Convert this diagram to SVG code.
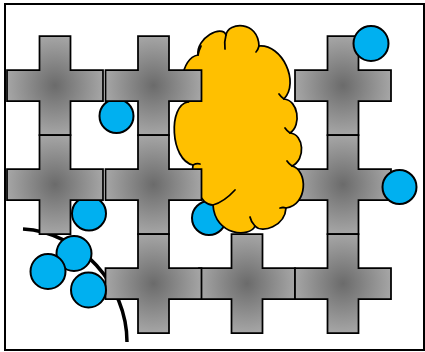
<svg xmlns="http://www.w3.org/2000/svg" xmlns:xlink="http://www.w3.org/1999/xlink" width="425" height="352" viewBox="0 0 425 352">
<style>
.cross{fill:url(#gray);stroke:#000;stroke-width:1.75;stroke-linejoin:miter}
.ball{fill:#00B0F0;stroke:#000;stroke-width:2}
.cloud{fill:#FFC000;stroke:#000;stroke-width:1.75;stroke-linejoin:round}
.inner{fill:none;stroke:#000;stroke-width:1.75;stroke-linecap:round}
.curve{fill:none;stroke:#000;stroke-width:3.5}
</style>
<defs>
<radialGradient id="gray" cx="50%" cy="50%" r="55%">
<stop offset="0" stop-color="#6b6b6b"/>
<stop offset="1" stop-color="#ababab"/>
</radialGradient>
<path id="crossShape" class="cross" d="M-15.5,-49.5 H15.5 V-15.5 H48 V15.5 H15.5 V49.5 H-15.5 V15.5 H-48 V-15.5 H-15.5 Z"/>
</defs>
<rect x="5" y="4" width="419" height="346" fill="#fff" stroke="#000" stroke-width="2"/>
<g id="connectors">
<path class="curve" d="M23,229 C80,232 127,285 127,342"/>
</g>
<g id="ball-under-1"><circle class="ball" cx="116.5" cy="116" r="17"/></g>
<g id="ball-under-2"><circle class="ball" cx="89" cy="213.5" r="17"/></g>
<g id="ball-under-3"><circle class="ball" cx="209" cy="218" r="17"/></g>
<g id="cross-r1c4"><use xlink:href="#crossShape" href="#crossShape" x="343" y="85.5"/></g>
<g id="cross-r2c4"><use xlink:href="#crossShape" href="#crossShape" x="343" y="184.5"/></g>
<g id="cross-r3c3"><use xlink:href="#crossShape" href="#crossShape" x="247" y="283.5"/></g>
<g id="cross-r3c4"><use xlink:href="#crossShape" href="#crossShape" x="343" y="283.5"/></g>
<g id="cloud">
<path class="cloud" d="M198,55 C196,38 222,24 226,35 C228,22 258,20 259,46 C282,44 300,82 284,99 C298,100 302,125 290,133 C304,134 306,160 292,166 C308,170 308,205 286,208 C285,226 262,234 255,226 C250,238 215,236 213,205 C200,205 190,180 193,165 C170,160 168,105 188,102 C178,95 180,58 198,55 Z"/>
<path class="inner" d="M198,55 Q199,50 201,46 M226,35 Q224,42 225,49 M259,46 Q258,50 256,52 M284,99 Q281,97 279,94 M290,133 Q287,131 285,128 M292,166 Q289,164 287,161 M286,208 Q283,207 280,208 M255,226 Q251,222 250,217 M213,205 Q224,202 235,190 M193,165 Q197,163 200,164 M188,102 Q191,100 193,100"/>
</g>
<g id="cross-r1c1"><use xlink:href="#crossShape" href="#crossShape" x="55" y="85.5"/></g>
<g id="cross-r1c2"><use xlink:href="#crossShape" href="#crossShape" x="153.5" y="85.5"/></g>
<g id="cross-r2c1"><use xlink:href="#crossShape" href="#crossShape" x="55" y="184.5"/></g>
<g id="cross-r2c2"><use xlink:href="#crossShape" href="#crossShape" x="153.5" y="184.5"/></g>
<g id="cross-r3c2"><use xlink:href="#crossShape" href="#crossShape" x="153.5" y="283.5"/></g>
<g id="ball-top-right"><circle class="ball" cx="371" cy="43.5" r="17.5"/></g>
<g id="ball-right"><circle class="ball" cx="399.5" cy="187" r="17"/></g>
<g id="ball-cluster-1"><circle class="ball" cx="74" cy="253.5" r="17.5"/></g>
<g id="ball-cluster-2"><circle class="ball" cx="48" cy="271.5" r="17.5"/></g>
<g id="ball-cluster-3"><circle class="ball" cx="88.5" cy="290" r="17.5"/></g>
</svg>
